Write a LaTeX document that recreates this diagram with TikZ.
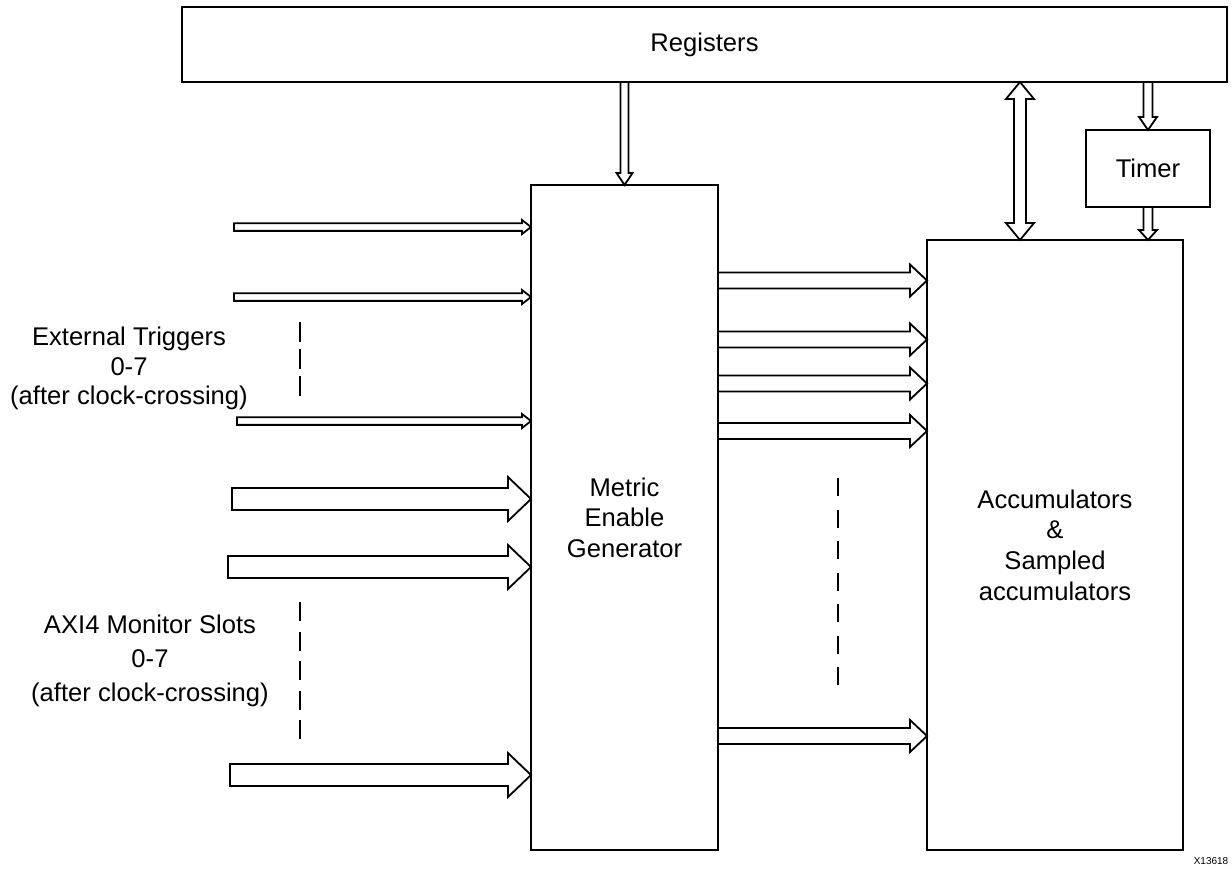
\documentclass[tikz,border=0pt]{standalone}
\usepackage{fontspec}
\setmainfont{Liberation Sans}
\usetikzlibrary{calc}
\tikzset{
  box/.style={draw, line width=2pt, outer sep=0pt, inner sep=0pt, align=center},
  blk/.style={draw, line width=1.8pt, fill=white, line join=miter},
  lbl/.style={align=center, inner sep=0pt},
  dsh/.style={line width=2pt},
}
% horizontal block arrow: start, end, shaft half, head half, head length
\newcommand\HArrow[5]{%
  \draw[blk] ($(#1)+(0,#3)$) -- ($(#2)+(-#5,#3)$) -- ($(#2)+(-#5,#4)$) -- (#2)
    -- ($(#2)+(-#5,-#4)$) -- ($(#2)+(-#5,-#3)$) -- ($(#1)+(0,-#3)$) -- cycle;}
% vertical (downward) block arrow
\newcommand\VArrow[5]{%
  \draw[blk] ($(#1)+(-#3,0)$) -- ($(#2)+(-#3,-#5)$) -- ($(#2)+(-#4,-#5)$) -- (#2)
    -- ($(#2)+(#4,-#5)$) -- ($(#2)+(#3,-#5)$) -- ($(#1)+(#3,0)$) -- cycle;}
% vertical double-headed block arrow: top, bottom
\newcommand\DArrow[5]{%
  \draw[blk] (#1) -- ($(#1)+(#4,#5)$) -- ($(#1)+(#3,#5)$) -- ($(#2)+(#3,-#5)$)
    -- ($(#2)+(#4,-#5)$) -- (#2) -- ($(#2)+(-#4,-#5)$) -- ($(#2)+(-#3,-#5)$)
    -- ($(#1)+(-#3,#5)$) -- ($(#1)+(-#4,#5)$) -- cycle;}
\begin{document}
\begin{tikzpicture}[x=1pt,y=-1pt]
\useasboundingbox (0,0) rectangle (1232,871);

% boxes
\node[box, minimum width=1045pt, minimum height=75pt,
      font=\fontsize{25.6}{30}\selectfont] (reg) at (704.5,44.5) {Registers};
\node[box, minimum width=187pt, minimum height=665pt,
      font=\fontsize{25.6}{30.5}\selectfont] (meg) at (624.5,517.5)
      {Metric\\Enable\\Generator};
\node[box, minimum width=256pt, minimum height=610pt,
      font=\fontsize{25.6}{30.7}\selectfont] (acc) at (1055,545)
      {Accumulators\\\&\\Sampled\\accumulators};
\node[box, minimum width=124pt, minimum height=77pt,
      font=\fontsize{25.6}{30}\selectfont] (timer) at (1148,168.5) {Timer};

% side labels
\node[lbl, font=\fontsize{25.6}{29.5}\selectfont] (trig) at (129,368.5)
      {External Triggers\\0-7\\(after clock-crossing)};
\node[lbl, font=\fontsize{25.6}{34}\selectfont] (axi) at (150,660.5)
      {AXI4 Monitor Slots\\0-7\\(after clock-crossing)};
\node[lbl, font=\fontsize{10}{12}\selectfont] (xid) at (1211,861) {X13618};

% dashed continuation marks
\coordinate (d1a) at (300,322); \coordinate (d1b) at (300,396);
\coordinate (d2a) at (300,602); \coordinate (d2b) at (300,739);
\coordinate (d3a) at (838,478); \coordinate (d3b) at (838,685);
\draw[dsh, dash pattern=on 20pt off 7pt] (d1a) -- (d1b);
\draw[dsh, dash pattern=on 19pt off 10.5pt] (d2a) -- (d2b);
\draw[dsh, dash pattern=on 18pt off 13.5pt] (d3a) -- (d3b);

% external trigger inputs (thin)
\coordinate (t1) at (234,227); \coordinate (t1e) at (meg.west |- t1);
\coordinate (t2) at (234,297); \coordinate (t2e) at (meg.west |- t2);
\coordinate (t3) at (237,421); \coordinate (t3e) at (meg.west |- t3);
\HArrow{t1}{t1e}{3.85}{7}{9}
\HArrow{t2}{t2e}{3.85}{7}{9}
\HArrow{t3}{t3e}{3.85}{7}{9}

% AXI4 slot inputs (wide)
\coordinate (b1) at (232,499); \coordinate (b1e) at (meg.west |- b1);
\coordinate (b2) at (228,567); \coordinate (b2e) at (meg.west |- b2);
\coordinate (b3) at (230,775); \coordinate (b3e) at (meg.west |- b3);
\HArrow{b1}{b1e}{11}{22}{23}
\HArrow{b2}{b2e}{11}{22}{23}
\HArrow{b3}{b3e}{11}{22}{23}

% MEG -> accumulators
\foreach \i/\yy in {1/280.5, 2/339.5, 3/383.5, 4/431, 5/736} {
  \coordinate (r\i) at (0,\yy);
  \coordinate (r\i s) at (meg.east |- r\i);
  \coordinate (r\i e) at (acc.west |- r\i);
  \HArrow{r\i s}{r\i e}{8}{16}{17}
}

% registers -> MEG
\coordinate (v1s) at (meg.north |- reg.south);
\VArrow{v1s}{meg.north}{4}{8}{12}
% registers -> timer
\coordinate (v2s) at (timer.north |- reg.south);
\VArrow{v2s}{timer.north}{4.5}{9}{13}
% timer -> accumulators
\coordinate (v3e) at (timer.south |- acc.north);
\VArrow{timer.south}{v3e}{4.5}{9}{10}
% registers <-> accumulators
\coordinate (bx) at (1020,0);
\coordinate (bxt) at (bx |- reg.south);
\coordinate (bxb) at (bx |- acc.north);
\DArrow{bxt}{bxb}{6}{14}{17}
\end{tikzpicture}
\end{document}
